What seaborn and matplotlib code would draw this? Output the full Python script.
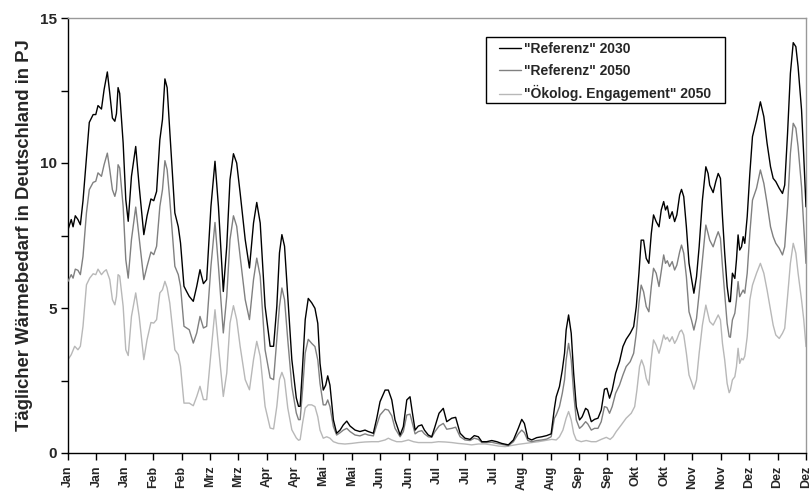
import numpy as np
import pandas as pd
import matplotlib
matplotlib.use("Agg")
import matplotlib.pyplot as plt
import seaborn as sns
from matplotlib.ticker import MultipleLocator, FixedLocator
from matplotlib.patches import Rectangle

sns.set_style("ticks")
plt.rcParams['font.family'] = ['Liberation Sans', 'DejaVu Sans']

# ---------------- data ----------------
tick_labels = ["Jan", "Jan", "Jan", "Feb", "Feb", "Mrz", "Mrz", "Apr", "Apr", "Mai",
               "Mai", "Jun", "Jun", "Jul", "Jul", "Jul", "Aug", "Aug", "Sep", "Sep",
               "Okt", "Okt", "Nov", "Nov", "Dez", "Dez", "Dez"]

series_names = ['"Referenz" 2030', '"Referenz" 2050', '"Ökolog. Engagement" 2050']

days_ref = [
    0, 1.6, 2.5, 3.6, 4.9, 6.1, 7.4, 9.1, 10.5, 12.4, 13.7, 14.8, 16.5, 17.8, 19.4, 20.6,
    21.9, 23.1, 23.9, 24.7, 25.5, 27.2, 28.5, 29.7, 31.3, 33.4, 35.1, 37.4, 39.0, 40.9,
    42.3, 43.7, 45.3, 46.6, 47.8, 48.9, 50.2, 52.7, 54.4, 55.5, 57.2, 58.5, 59.8,
    61.8, 63.5, 65.1, 66.8, 68.4, 70.5, 72.5, 74.2, 76.6, 78.3, 79.9, 81.6, 83.2, 84.9,
    87.4, 89.5, 91.5, 93.1, 94.8, 97.2, 99.7, 101.4, 103.0, 104.3, 105.5, 106.8, 108.4,
    110.4, 112.6, 113.7, 114.5, 115.7, 117.0,
    118.5, 120.2, 121.8, 123.2, 124.3, 125.9, 127.1, 128.1, 129.2, 130.9, 132.5, 134.2,
    135.8, 137.5, 139.1, 141.6, 144.0, 146.5, 148.1, 150.6, 152.3, 153.9, 156.4, 158.0,
    159.7, 161.3, 163.8, 165.4, 167.1, 168.7, 169.9, 171.2, 172.8, 174.5, 175.8,
    177.7, 179.4, 181.0, 183.0, 185.1, 186.8, 189.3, 191.2, 193.4, 195.8, 198.3, 200.4,
    202.4, 204.1, 206.5, 209.0, 211.5, 213.9, 217.2, 219.7, 222.1, 223.8, 225.1, 226.8,
    228.7, 231.2, 233.7, 236.1, 238.3, 239.9,
    240.8, 242.4, 243.8, 244.9, 245.7, 246.9, 248.2, 249.4, 250.7, 252.3, 253.6, 255.3,
    256.4, 258.1, 259.7, 261.4, 263.0, 264.6, 265.8, 267.1, 268.4, 270.1, 272.0, 273.7,
    275.3, 277.3, 279.0, 280.3, 281.6, 282.7, 283.9, 285.2, 286.5, 287.7, 288.8, 290.1,
    291.5, 292.6, 293.8, 294.7, 295.6, 296.7, 298.0, 299.2, 300.3, 301.7,
    302.6, 303.7, 305.0, 306.3, 307.5, 308.7, 310.0, 311.3, 312.9, 314.6, 315.7, 316.5,
    318.2, 319.5, 320.7, 321.8, 322.8, 323.9, 325.1, 326.1, 326.7, 327.7, 328.9, 329.7,
    330.5, 331.3, 332.2, 333.0, 333.8, 335.0, 336.3, 337.6, 339.6, 341.5, 343.2, 344.8,
    346.5, 347.8, 349.1, 350.8, 352.4, 353.5, 354.9, 356.3, 357.7, 359.0, 360.1, 361.8,
    362.9, 364.0]

ref2030 = [
    7.70, 8.05, 7.80, 8.18, 8.05, 7.87, 8.70, 10.20, 11.40, 11.67, 11.67, 11.98, 11.86,
    12.53, 13.14, 12.40, 11.55, 11.44, 11.70, 12.60, 12.40, 10.69, 8.74, 7.99, 9.54, 10.57,
    9.20, 7.53, 8.18, 8.76, 8.70, 9.02, 10.80, 11.50, 12.90, 12.60, 11.10, 8.28, 7.80, 7.24,
    5.75, 5.57, 5.40,
    5.23, 5.75, 6.32, 5.84, 5.98, 8.50, 10.06, 8.50, 5.57, 7.13, 9.43, 10.32, 10.00, 8.97,
    7.36, 6.38, 7.93, 8.64, 7.93, 5.06, 3.68, 3.68, 5.06, 6.90, 7.53, 7.13, 5.40, 3.22, 1.90,
    1.61, 1.61, 2.99, 4.60,
    5.33, 5.18, 4.99, 4.47, 3.09, 2.17, 2.34, 2.66, 2.34, 1.14, 0.68, 0.79, 0.97, 1.10, 0.93,
    0.79, 0.74, 0.79, 0.74, 0.68, 1.20, 1.77, 2.17, 2.17, 1.83, 1.14, 0.62, 0.91, 1.83, 1.94,
    1.37, 0.79, 0.93, 0.97, 0.79,
    0.62, 0.56, 0.91, 1.37, 1.54, 1.08, 1.20, 1.23, 0.68, 0.51, 0.47, 0.60, 0.56, 0.39, 0.39,
    0.43, 0.39, 0.33, 0.28, 0.45, 0.85, 1.16, 1.02, 0.51, 0.45, 0.53, 0.56, 0.60, 0.66, 1.54,
    1.94, 2.29, 2.86, 3.44, 4.24, 4.76, 4.13, 2.75, 1.60, 1.14, 1.25, 1.54, 1.48, 1.08, 1.16,
    1.20, 1.48, 2.20, 2.23, 1.89, 2.17, 2.75, 3.15, 3.67, 3.92, 4.13, 4.36, 5.05, 6.20, 7.34,
    7.34, 6.71, 6.54, 7.57, 8.21, 7.98, 7.80, 8.38, 8.67, 8.38, 8.52, 8.09, 8.32, 7.98, 8.21,
    8.90,
    9.09, 8.84, 7.80, 6.54, 6.02, 5.51, 6.08, 7.11, 8.72, 9.87, 9.64, 9.24, 8.98, 9.36, 9.64,
    9.47, 8.15, 6.89, 5.74, 5.22, 5.22, 6.20, 6.02, 6.66, 7.52, 7.00, 7.11, 7.46, 7.23, 8.15,
    9.64, 10.91, 11.48, 12.11, 11.60, 10.68, 9.87, 9.47, 9.36, 9.13, 8.95, 9.24, 11.02, 13.09,
    14.15, 14.01, 13.32, 11.83, 10.22, 8.49]

ref2050 = [
    5.92, 6.15, 6.03, 6.34, 6.30, 6.15, 6.78, 8.28, 9.08, 9.33, 9.37, 9.66, 9.54, 9.94,
    10.34, 9.77, 9.08, 8.85, 9.08, 9.94, 9.83, 8.50, 6.67, 6.03, 7.36, 8.48, 7.41, 5.98, 6.44,
    6.93, 6.84, 7.13, 8.50, 9.08, 10.08, 9.77, 8.74, 6.44, 6.15, 5.75, 4.37, 4.31, 4.25,
    3.79, 4.14, 4.71, 4.31, 4.37, 6.44, 7.95, 6.44, 4.14, 5.40, 7.36, 8.18, 7.82, 6.78, 5.29,
    4.60, 5.98, 6.72, 6.09, 3.56, 2.59, 2.53, 3.90, 5.06, 5.69, 5.29, 3.90, 2.30, 1.38, 1.15,
    1.15, 2.18, 3.45,
    3.92, 3.78, 3.67, 3.21, 2.40, 1.66, 1.66, 1.83, 1.60, 0.91, 0.62, 0.70, 0.79, 0.85, 0.74,
    0.62, 0.59, 0.66, 0.62, 0.59, 0.97, 1.31, 1.51, 1.48, 1.28, 0.85, 0.56, 0.74, 1.31, 1.34,
    1.02, 0.66, 0.74, 0.77, 0.66,
    0.56, 0.54, 0.74, 0.93, 1.02, 0.82, 0.85, 0.89, 0.56, 0.45, 0.43, 0.51, 0.47, 0.36, 0.36,
    0.37, 0.33, 0.30, 0.25, 0.39, 0.66, 0.79, 0.70, 0.43, 0.39, 0.43, 0.45, 0.48, 0.56, 1.20,
    1.31, 1.60, 2.06, 2.52, 3.21, 3.78, 3.21, 2.06, 1.14, 0.85, 0.93, 1.08, 1.00, 0.79, 0.85,
    0.85, 1.08, 1.60, 1.57, 1.37, 1.60, 2.06, 2.34, 2.69, 2.98, 3.15, 3.44, 4.13, 5.16, 5.79,
    5.56, 5.05, 4.87, 5.74, 6.37, 6.20, 5.74, 6.25, 6.83, 6.54, 6.63, 6.43, 6.60, 6.31, 6.48,
    6.94,
    7.17, 6.89, 6.08, 4.87, 4.59, 4.24, 4.64, 5.51, 6.66, 7.86, 7.57, 7.34, 7.11, 7.40, 7.63,
    7.40, 6.43, 5.51, 4.47, 4.01, 3.99, 4.59, 4.82, 5.28, 5.91, 5.39, 5.51, 5.62, 5.51, 6.20,
    7.57, 8.72, 9.13, 9.76, 9.30, 8.61, 7.80, 7.46, 7.23, 7.06, 6.83, 7.11, 8.49, 10.33,
    11.37, 11.20, 10.56, 9.18, 7.80, 6.54]

days_oeko = [
    0, 1.6, 3.3, 4.9, 6.1, 7.4, 9.1, 10.7, 12.4, 13.7, 14.8, 16.5, 17.8, 18.9, 20.6, 21.9,
    23.1, 23.9, 24.7, 25.5, 27.2, 28.5, 29.7, 31.3, 33.4, 35.1, 37.4, 39.0, 40.9, 42.3,
    43.7, 45.3, 46.6, 47.8, 48.9, 50.2, 52.7, 54.4, 55.5, 57.2, 58.5, 59.8,
    61.8, 63.5, 65.1, 66.8, 68.4, 70.5, 72.5, 74.2, 76.6, 78.3, 79.9, 81.6, 83.2, 84.9,
    87.4, 89.5, 91.5, 93.1, 94.8, 97.2, 99.7, 101.4, 103.0, 104.3, 105.5, 106.8, 108.4,
    110.4, 112.6, 113.7, 114.5, 115.7, 117.0,
    118.5, 120.2, 121.8, 123.2, 124.3, 125.9, 127.6, 129.2, 130.9, 133.3, 136.6, 139.9,
    143.2, 146.5, 149.8, 153.1, 156.4, 158.0, 159.7, 162.1, 164.6, 167.9, 170.4, 172.8, 176.1,
    179.4, 182.7, 186.0, 189.3, 192.5, 195.8, 199.1, 202.4, 205.7, 209.0, 212.3, 215.6,
    218.9, 222.2, 225.4, 228.7, 232.0, 235.3, 238.6,
    240.8, 242.4, 244.1, 245.7, 246.9, 248.2, 249.4, 250.7, 253.1, 255.6, 258.1, 260.5,
    263.0, 265.5, 267.4, 268.8, 270.4, 272.9, 275.3, 277.8, 279.5, 280.6, 281.9, 282.9,
    284.1, 285.2, 286.5, 287.7, 288.8, 290.1, 291.5, 292.6, 293.8, 294.7, 295.6, 296.7,
    298.0, 299.2, 300.3, 301.7,
    302.6, 303.7, 305.0, 306.3, 307.5, 308.7, 310.0, 311.3, 312.9, 314.6, 315.7, 316.5,
    318.2, 319.5, 320.7, 321.8, 322.8, 323.9, 325.1, 326.1, 326.7, 327.7, 328.9, 329.7,
    330.5, 331.3, 332.2, 333.0, 333.8, 335.0, 336.3, 337.6, 339.6, 341.5, 343.2, 344.8,
    346.5, 347.8, 349.1, 350.8, 352.4, 353.5, 354.9, 356.3, 357.7, 359.0, 360.1, 361.8,
    362.9, 364.0]

oeko2050 = [
    3.22, 3.39, 3.68, 3.56, 3.68, 4.37, 5.80, 6.03, 6.18, 6.15, 6.34, 6.15, 6.26, 6.32, 5.98,
    5.29, 5.11, 5.40, 6.15, 6.10, 5.06, 3.56, 3.36, 4.71, 5.52, 4.71, 3.22, 3.91, 4.50, 4.48,
    4.60, 5.52, 5.63, 5.92, 5.69, 5.17, 3.56, 3.39, 2.99, 1.72, 1.72, 1.72,
    1.63, 1.95, 2.30, 1.84, 1.84, 3.45, 4.94, 3.68, 1.95, 2.76, 4.48, 5.08, 4.60, 3.68, 2.53,
    2.18, 3.22, 3.85, 3.33, 1.61, 0.86, 0.83, 1.61, 2.53, 2.78, 2.53, 1.55, 0.80, 0.52, 0.44,
    0.46, 1.03, 1.55,
    1.66, 1.66, 1.60, 1.25, 0.79, 0.51, 0.56, 0.51, 0.39, 0.33, 0.31, 0.33, 0.36, 0.38, 0.39,
    0.39, 0.45, 0.51, 0.45, 0.39, 0.39, 0.45, 0.39, 0.36, 0.36,
    0.36, 0.39, 0.38, 0.36, 0.33, 0.31, 0.28, 0.31, 0.31, 0.28, 0.24, 0.22, 0.26, 0.30, 0.33,
    0.36, 0.39, 0.43, 0.47,
    0.45, 0.56, 0.79, 1.20, 1.43, 1.14, 0.68, 0.45, 0.39, 0.43, 0.39, 0.39, 0.47, 0.54, 0.47,
    0.56, 0.74, 0.97, 1.20, 1.37, 1.60, 2.17, 2.98, 3.21, 2.98, 2.57, 2.34, 3.26, 3.90, 3.72,
    3.44, 3.72, 4.07, 3.92, 3.99, 3.84, 4.01, 3.78, 3.92, 4.18,
    4.24, 4.07, 3.44, 2.69, 2.46, 2.20, 2.52, 3.44, 4.41, 5.10, 4.76, 4.53, 4.41, 4.59, 4.76,
    4.59, 3.78, 3.21, 2.40, 2.08, 2.17, 2.52, 2.63, 2.98, 3.61, 3.09, 3.26, 3.21, 3.34, 4.01,
    5.28, 5.79, 6.20, 6.54, 6.20, 5.62, 4.93, 4.41, 4.07, 3.95, 4.13, 4.30, 5.39, 6.54, 7.23,
    6.89, 6.20, 5.28, 4.59, 3.67]

# ---------------- build table ----------------
df = pd.concat([
    pd.DataFrame({"Tag": days_ref, "Wert": ref2030, "Szenario": series_names[0]}),
    pd.DataFrame({"Tag": days_ref, "Wert": ref2050, "Szenario": series_names[1]}),
    pd.DataFrame({"Tag": days_oeko, "Wert": oeko2050, "Szenario": series_names[2]}),
], ignore_index=True)

palette = {series_names[0]: "#000000", series_names[1]: "#808080", series_names[2]: "#b8b8b8"}

fig = plt.figure(figsize=(8.11, 4.92), dpi=100)
ax = fig.add_axes([68 / 811, 1 - 453 / 492, 738 / 811, 435 / 492])

sns.lineplot(data=df, x="Tag", y="Wert", hue="Szenario", hue_order=series_names,
             palette=palette, estimator=None, sort=True, linewidth=1.0, ax=ax)

for ln, z in zip(ax.lines[:3], [4, 3, 2]):
    ln.set_zorder(z)

ax.set_xlim(0, 364)
ax.set_ylim(0, 15)
ax.set_xticks(np.arange(0, 365, 14))
ax.set_xticklabels(tick_labels, rotation=90, fontsize=9, fontweight="bold", va="top")
ax.yaxis.set_major_locator(FixedLocator([0, 5, 10, 15]))
ax.yaxis.set_minor_locator(MultipleLocator(2.5))
for lbl in ax.get_yticklabels():
    lbl.set_fontweight("bold")
    lbl.set_fontsize(11)
ax.tick_params(axis="both", which="both", direction="out", length=5, width=1, color="black")
ax.tick_params(axis="y", pad=3)
ax.tick_params(axis="x", pad=4)

ax.set_xlabel("")
ax.set_ylabel("Täglicher Wärmebedarf in Deutschland in PJ", fontsize=13.3, fontweight="bold")
ax.yaxis.set_label_coords(-0.047, 0.5)

for s in ["left", "bottom"]:
    ax.spines[s].set_color("black")
    ax.spines[s].set_linewidth(1.0)
for s in ["top", "right"]:
    ax.spines[s].set_color("#999999")
    ax.spines[s].set_linewidth(1.0)
    ax.spines[s].set_visible(True)

handles, labels = ax.get_legend_handles_labels()
leg = ax.legend(handles, labels, loc="upper left",
                bbox_to_anchor=((499 - 68) / 738, (453 - 42) / 435),
                borderaxespad=0, frameon=False,
                prop={"weight": "bold", "size": 10},
                handlelength=1.6, handletextpad=0.2, labelspacing=0.55, borderpad=0)

# legend frame box
fig.add_artist(Rectangle((486 / 811, 1 - 103 / 492), 239 / 811, 66 / 492,
                         transform=fig.transFigure, fill=False, edgecolor="black",
                         linewidth=1.0, zorder=5))

fig.savefig("out.png", dpi=100)
